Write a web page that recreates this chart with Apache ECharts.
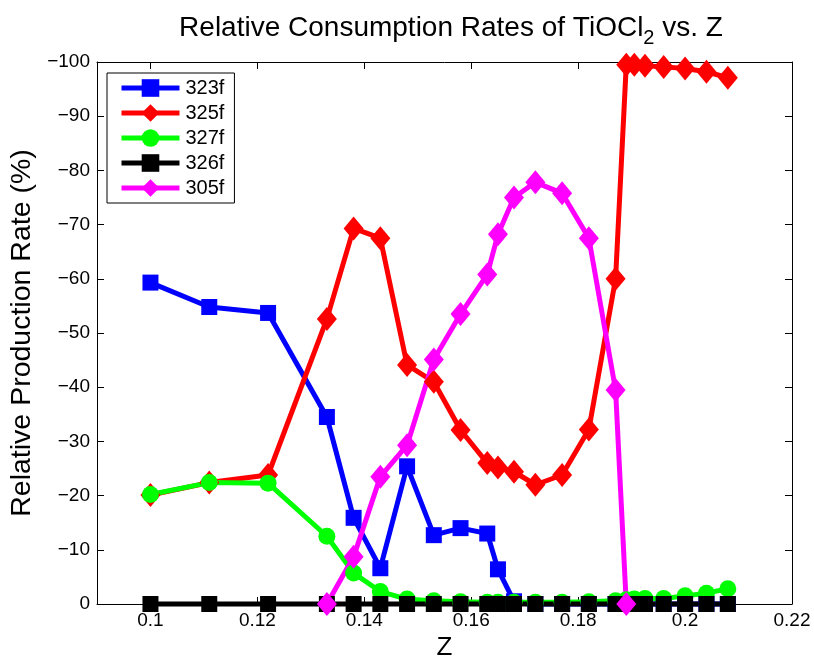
<!DOCTYPE html>
<html>
<head>
<meta charset="utf-8">
<script src="https://cdn.jsdelivr.net/npm/echarts@6/dist/echarts.min.js"></script>
<style>
html,body{margin:0;padding:0;background:#fff;}
#chart{width:814px;height:658px;}
</style>
</head>
<body>
<div id="chart"></div>
<script>
// Z values (shared x grid)
const zValues = [0.1, 0.111, 0.122, 0.133, 0.138, 0.143, 0.148, 0.153, 0.158, 0.163, 0.165, 0.168, 0.172, 0.177, 0.182, 0.187, 0.189, 0.1905, 0.1925, 0.196, 0.2, 0.204, 0.208];
const s323f = [-59.3, -54.8, -53.7, -34.5, -15.9, -6.6, -25.4, -12.7, -14.0, -13.0, -6.4, -0.5, 0, 0, 0, 0, 0, 0, 0, 0, 0, 0, 0];
const s325f = [-20.1, -22.4, -23.8, -52.6, -69.3, -67.5, -44.1, -41.0, -32.1, -26.0, -25.2, -24.4, -22.0, -23.8, -32.2, -60.0, -99.5, -99.5, -99.3, -99.1, -98.8, -98.2, -97.1];
const s327f = [-20.2, -22.4, -22.3, -12.5, -5.7, -2.3, -0.9, -0.6, -0.4, -0.3, -0.3, -0.3, -0.3, -0.3, -0.4, -0.6, -0.8, -0.9, -1.0, -1.0, -1.5, -2.0, -2.8];
const s326f = [0, 0, 0, 0, 0, 0, 0, 0, 0, 0, 0, 0, 0, 0, 0, 0, 0, 0, 0, 0, 0, 0, 0];
const s305f = [null, null, null, 0, -8.7, -23.5, -29.3, -45.1, -53.5, -60.8, -68.2, -75.0, -77.8, -75.8, -67.5, -39.5, 0, null, null, null, null, null, null];
const seriesNames = ['323f', '325f', '327f', '326f', '305f'];
const xTickValues = [0.1, 0.12, 0.14, 0.16, 0.18, 0.2, 0.22];
const yTickValues = [0, -10, -20, -30, -40, -50, -60, -70, -80, -90, -100];

const seriesValues = [s323f, s325f, s327f, s326f, s305f];
const colors = ['#0000ff', '#ff0000', '#00ff00', '#000000', '#ff00ff'];
const symbols = ['rect', 'diamond', 'circle', 'rect', 'diamond'];
const symbolSizes = [16, [20, 24], 17, 16, [20, 24]];

function pairs(vals) {
  const out = [];
  vals.forEach((v, i) => { if (v !== null) out.push([zValues[i], v]); });
  return out;
}

const FONT = '"Liberation Sans", Arial, Helvetica, sans-serif';
const chart = echarts.init(document.getElementById('chart'), null, {renderer: 'canvas'});

const axisBase = {
  axisLine: {show: true, onZero: false, lineStyle: {color: '#000', width: 1}},
  splitLine: {show: false}
};

chart.setOption({
  backgroundColor: '#fff',
  animation: false,
  title: {
    text: '{a|Relative Consumption Rates of TiOCl}{s|2}{a| vs. Z}',
    left: 446,
    top: 5,
    textAlign: 'center',
    textStyle: {
      fontFamily: FONT,
      fontWeight: 'normal',
      color: '#000',
      rich: {
        a: {fontSize: 28, fontFamily: FONT, color: '#000', lineHeight: 36},
        s: {fontSize: 20, fontFamily: FONT, color: '#000', padding: [21, 0, 0, 0], lineHeight: 36}
      }
    }
  },
  legend: {
    orient: 'vertical',
    left: 107,
    top: 73,
    padding: [4, 10, 4, 12],
    itemGap: 3,
    itemWidth: 58,
    itemHeight: 22,
    borderColor: '#000',
    borderWidth: 1,
    backgroundColor: '#fff',
    lineStyle: {width: 5},
    data: seriesNames,
    textStyle: {fontFamily: FONT, fontSize: 20, color: '#000', lineHeight: 22, padding: [0, 0, 0, 1]}
  },
  grid: {left: 97, right: 22, top: 62, bottom: 54, containLabel: false, outerBoundsMode: 'none'},
  xAxis: [
    Object.assign({}, axisBase, {
      type: 'value',
      min: 0.09,
      max: 0.22,
      name: 'Z',
      nameLocation: 'middle',
      nameGap: 26,
      nameTextStyle: {fontFamily: FONT, fontSize: 26, color: '#000', verticalAlign: 'top'},
      axisTick: {show: true, inside: true, length: 7, customValues: xTickValues, lineStyle: {color: '#000'}},
      axisLabel: {
        show: true, customValues: xTickValues, margin: 7,
        fontFamily: FONT, fontSize: 19, color: '#000',
        formatter: v => String(+(+v).toFixed(2))
      }
    }),
    Object.assign({}, axisBase, {
      type: 'value',
      position: 'top',
      min: 0.09,
      max: 0.22,
      axisTick: {show: true, inside: true, length: 7, customValues: xTickValues, lineStyle: {color: '#000'}},
      axisLabel: {show: false}
    })
  ],
  yAxis: [
    Object.assign({}, axisBase, {
      type: 'value',
      min: -100,
      max: 0,
      interval: 10,
      inverse: true,
      name: 'Relative Production Rate (%)',
      nameLocation: 'middle',
      nameGap: 48,
      nameRotate: 90,
      nameTextStyle: {fontFamily: FONT, fontSize: 28.5, color: '#000'},
      axisTick: {show: true, inside: true, length: 7, customValues: yTickValues, lineStyle: {color: '#000'}},
      axisLabel: {
        show: true, customValues: yTickValues, margin: 7,
        fontFamily: FONT, fontSize: 19, color: '#000',
        formatter: v => String(Math.round(v)).replace('-', '\u2212')
      }
    }),
    Object.assign({}, axisBase, {
      type: 'value',
      position: 'right',
      min: -100,
      max: 0,
      interval: 10,
      inverse: true,
      axisTick: {show: true, inside: true, length: 7, lineStyle: {color: '#000'}},
      axisLabel: {show: false}
    })
  ],
  series: seriesNames.map((name, i) => ({
    name: name,
    type: 'line',
    xAxisIndex: 0,
    yAxisIndex: 0,
    data: pairs(seriesValues[i]),
    symbol: symbols[i],
    symbolSize: symbolSizes[i],
    showAllSymbol: true,
    clip: false,
    lineStyle: {color: colors[i], width: 5},
    itemStyle: {color: colors[i], borderColor: colors[i], borderWidth: 0},
    emphasis: {disabled: true}
  }))
});
</script>
</body>
</html>
